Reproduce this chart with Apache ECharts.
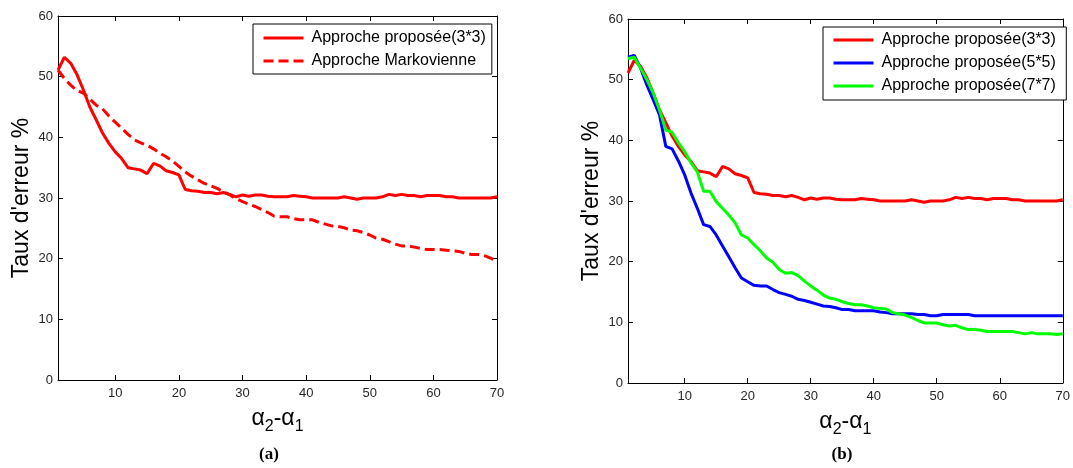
<!DOCTYPE html>
<html>
<head>
<meta charset="utf-8">
<script src="https://cdn.jsdelivr.net/npm/echarts@6/dist/echarts.min.js"></script>
<style>
  html, body { margin: 0; padding: 0; background: #fff; }
  #chart { width: 1073px; height: 468px; }
</style>
</head>
<body>
<div id="chart"></div>
<script>
// ---- data ----
const xValues = [1,2,3,4,5,6,7,8,9,10,11,12,13,14,15,16,17,18,19,20,21,22,23,24,25,26,27,28,29,30,31,32,33,34,35,36,37,38,39,40,41,42,43,44,45,46,47,48,49,50,51,52,53,54,55,56,57,58,59,60,61,62,63,64,65,66,67,68,69,70];
const xTicks = [10, 20, 30, 40, 50, 60, 70];
const yTicks = [0, 10, 20, 30, 40, 50, 60];

const propose3 = [51.1,53.2,52.2,50.3,47.8,45.0,42.9,40.7,39.0,37.6,36.5,35.0,34.8,34.6,34.0,35.7,35.3,34.5,34.2,33.8,
  31.4,31.2,31.1,30.9,30.9,30.7,30.9,30.6,30.2,30.5,30.3,30.5,30.5,30.3,30.2,30.2,30.2,30.4,30.3,30.2,
  30.0,30.0,30.0,30.0,30.0,30.2,30.0,29.8,30.0,30.0,30.0,30.2,30.6,30.4,30.6,30.4,30.4,30.2,30.4,30.4,
  30.4,30.2,30.2,30.0,30.0,30.0,30.0,30.0,30.0,30.2];
const markov = [51.1,49.7,48.6,47.7,47.3,46.3,45.3,44.7,43.5,42.5,41.5,40.5,39.6,39.1,38.7,38.1,37.4,36.8,36.1,35.2,
  34.3,33.6,33.0,32.4,32.0,31.6,31.0,30.5,29.9,29.4,29.0,28.6,28.1,27.6,27.0,26.9,26.9,26.6,26.4,26.4,
  26.4,26.0,25.7,25.4,25.3,25.1,24.7,24.6,24.3,23.9,23.4,23.2,22.8,22.4,22.1,22.1,21.9,21.7,21.5,21.5,
  21.5,21.4,21.3,21.2,20.9,20.7,20.7,20.5,20.1,19.6];
const propose5 = [53.7,54.0,51.9,49.1,46.7,44.2,39.0,38.6,36.6,34.3,31.3,28.8,26.1,25.8,24.4,22.6,20.8,19.0,17.3,16.7,
  16.1,16.0,16.0,15.4,14.9,14.6,14.3,13.8,13.6,13.3,13.0,12.7,12.6,12.4,12.1,12.1,11.9,11.9,11.9,11.9,
  11.7,11.6,11.4,11.4,11.4,11.4,11.3,11.3,11.1,11.1,11.3,11.3,11.3,11.3,11.3,11.1,11.1,11.1,11.1,11.1,
  11.1,11.1,11.1,11.1,11.1,11.1,11.1,11.1,11.1,11.1];
const propose7 = [53.5,53.7,51.9,50.0,47.8,45.0,41.7,41.3,39.6,38.1,36.3,34.8,31.6,31.6,29.9,28.8,27.7,26.4,24.4,23.9,
  22.8,21.8,20.6,19.9,18.7,18.1,18.2,17.7,16.8,16.0,15.3,14.5,14.0,13.8,13.4,13.1,12.9,12.9,12.7,12.4,
  12.3,12.2,11.6,11.4,11.2,10.8,10.3,9.9,9.9,9.9,9.6,9.4,9.5,9.1,8.8,8.8,8.7,8.5,8.5,8.5,
  8.5,8.5,8.3,8.1,8.3,8.1,8.1,8.1,8.0,8.1];

const nameLeg3 = 'Approche proposée(3*3)';
const nameLeg5 = 'Approche proposée(5*5)';
const nameLeg7 = 'Approche proposée(7*7)';
const nameMarkov = 'Approche Markovienne';

// ---- helpers ----
const pairs = (ys) => xValues.map((x, i) => [x, ys[i]]);
const FONT = 'Liberation Sans, Arial, sans-serif';
const tickLabelStyle = { color: '#262626', fontSize: 13, fontFamily: FONT };
const blackLine = { show: true, onZero: false, lineStyle: { color: '#000', width: 1 } };

function xAxes(gridIndex) {
  return [
    {
      type: 'value', gridIndex, min: 1, max: 70, position: 'bottom',
      axisLine: blackLine,
      axisTick: { show: true, inside: true, length: 5, customValues: xTicks, lineStyle: { color: '#000' } },
      axisLabel: Object.assign({ margin: 7, customValues: xTicks }, tickLabelStyle),
      splitLine: { show: false },
      name: '{a|α}{s|2}{a|-α}{s|1}', nameLocation: 'middle', nameGap: 27,
      nameTextStyle: {
        fontFamily: FONT, color: '#000',
        rich: {
          a: { fontSize: 23, fontFamily: FONT, color: '#000', padding: [0, 0, 4, 0] },
          s: { fontSize: 16, fontFamily: FONT, color: '#000', padding: [12, 0, 0, 0] }
        }
      }
    },
    {
      type: 'value', gridIndex, min: 1, max: 70, position: 'top',
      axisLine: blackLine,
      axisTick: { show: true, inside: true, length: 5, customValues: xTicks, lineStyle: { color: '#000' } },
      axisLabel: { show: false },
      splitLine: { show: false }
    }
  ];
}
function yAxes(gridIndex) {
  return [
    {
      type: 'value', gridIndex, min: 0, max: 60, interval: 10, position: 'left',
      axisLine: blackLine,
      axisTick: { show: true, inside: true, length: 5, lineStyle: { color: '#000' } },
      axisLabel: Object.assign({ margin: 5 }, tickLabelStyle),
      splitLine: { show: false },
      name: "Taux d'erreur %", nameLocation: 'middle', nameGap: 25,
      nameTextStyle: { fontFamily: FONT, fontSize: 23, color: '#000' }
    },
    {
      type: 'value', gridIndex, min: 0, max: 60, interval: 10, position: 'right',
      axisLine: blackLine,
      axisTick: { show: true, inside: true, length: 5, lineStyle: { color: '#000' } },
      axisLabel: { show: false },
      splitLine: { show: false }
    }
  ];
}
function lineSeries(name, ys, color, xi, yi, dashed) {
  return {
    name, type: 'line', data: pairs(ys), xAxisIndex: xi, yAxisIndex: yi,
    showSymbol: false, symbol: 'none', smooth: false,
    lineStyle: { color, width: 3, type: dashed ? [10, 5] : 'solid' },
    itemStyle: { color },
    emphasis: { disabled: true }, animation: false
  };
}

const legendCommon = {
  orient: 'vertical', backgroundColor: '#fff', borderColor: '#000', borderWidth: 1,
  itemWidth: 40, itemHeight: 14, borderRadius: 0,
  itemStyle: { opacity: 0 },
  lineStyle: { width: 3 },
  textStyle: { fontFamily: FONT, fontSize: 16, color: '#000', padding: [0, 0, 0, 3] },
  selectedMode: false
};

const option = {
  backgroundColor: '#fff',
  animation: false,
  grid: [
    { left: 58, top: 16, right: 576, bottom: 88, containLabel: false },
    { left: 628, top: 19, right: 6, bottom: 85, containLabel: false }
  ],
  xAxis: [...xAxes(0), ...xAxes(1)],
  yAxis: [...yAxes(0), ...yAxes(1)],
  legend: [
    Object.assign({}, legendCommon, { left: 253, top: 24, itemGap: 7, padding: [6, 6, 5, 9], data: [nameLeg3, nameMarkov] }),
    Object.assign({}, legendCommon, { left: 823, top: 27, itemGap: 7, padding: [5, 6, 6, 9], data: [nameLeg3 + ' ', nameLeg5, nameLeg7] })
  ],
  series: [
    lineSeries(nameLeg3, propose3, '#ff0000', 0, 0, false),
    lineSeries(nameMarkov, markov, '#ff0000', 0, 0, true),
    lineSeries(nameLeg3 + ' ', propose3, '#ff0000', 2, 2, false),
    lineSeries(nameLeg5, propose5, '#0000ff', 2, 2, false),
    lineSeries(nameLeg7, propose7, '#00ff00', 2, 2, false)
  ],
  graphic: [
    { type: 'text', x: 269, y: 455, style: { text: '(a)', fontFamily: 'Liberation Serif, Times New Roman, serif', fontWeight: 'bold', fontSize: 17, fill: '#000', align: 'center', verticalAlign: 'middle' } },
    { type: 'text', x: 842, y: 455, style: { text: '(b)', fontFamily: 'Liberation Serif, Times New Roman, serif', fontWeight: 'bold', fontSize: 17, fill: '#000', align: 'center', verticalAlign: 'middle' } }
  ]
};

const chart = echarts.init(document.getElementById('chart'), null, { renderer: 'canvas' });
chart.setOption(option);
</script>
</body>
</html>
